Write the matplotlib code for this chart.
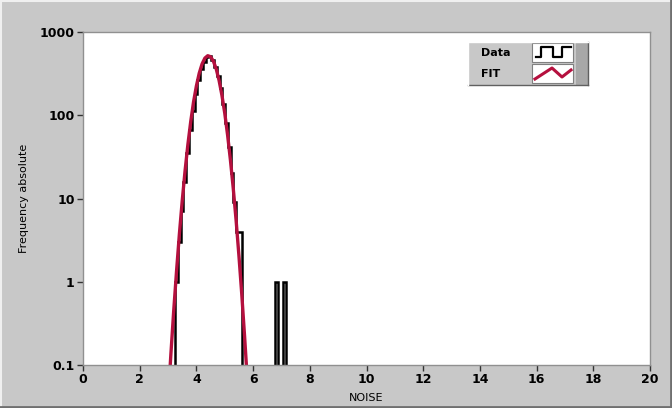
import numpy as np
import matplotlib.pyplot as plt
from matplotlib.patches import Rectangle
from matplotlib.lines import Line2D

# histogram of NOISE, bins of width 0.098 starting at 3.25
bin_start = 3.25
bin_width = 0.098
counts = [1, 3, 7, 16, 35, 66, 112, 180, 265, 360, 440, 495,
          510, 460, 385, 300, 210, 135, 80, 42, 20, 9, 4, 4,
          0, 0, 0, 0, 0, 0, 0, 0, 0, 0, 0, 0, 1, 0, 0, 1]

# fit curve
fit_x = [3.0, 3.1, 3.2, 3.3, 3.4, 3.5, 3.6, 3.7, 3.8, 3.9, 4.0, 4.1, 4.2, 4.3,
         4.4, 4.5, 4.6, 4.7, 4.8, 4.9, 5.0, 5.1, 5.2, 5.3, 5.4, 5.5, 5.6, 5.7, 5.8]
fit_y = [0.037, 0.135, 0.45, 1.35, 3.75, 9.4, 21.5, 44.6, 84, 145, 225, 320, 413, 486,
         519, 505, 446, 359, 262, 174, 106, 58, 29, 13.2, 5.5, 2.06, 0.71, 0.22, 0.063]

x_ticks = [0, 2, 4, 6, 8, 10, 12, 14, 16, 18, 20]
y_ticks = [0.1, 1, 10, 100, 1000]
y_labels = ["0.1", "1", "10", "100", "1000"]

bg = "#c8c8c8"
red = "#b5103e"

fig = plt.figure(figsize=(6.72, 4.08), dpi=100, facecolor=bg)
ax = fig.add_axes([83 / 672, 1 - 365 / 408, 567 / 672, 333 / 408])
ax.set_facecolor("white")

edges = bin_start + bin_width * np.arange(len(counts) + 1)
vals = np.array(counts, dtype=float)
vals[vals == 0] = 1e-4
ax.plot(fit_x, fit_y, color=red, lw=2.4, solid_capstyle="butt")
ax.stairs(vals, edges, baseline=1e-4, color="black", lw=1.8)

ax.set_yscale("log")
ax.set_xlim(0, 20)
ax.set_ylim(0.1, 1000)
ax.set_xticks(x_ticks)
ax.set_xticklabels([str(t) for t in x_ticks])
ax.set_yticks(y_ticks)
ax.set_yticklabels(y_labels)
ax.minorticks_off()
ax.tick_params(axis="both", direction="out", length=4, width=1, color="#333333",
               labelsize=9, pad=2)
for lab in ax.get_xticklabels() + ax.get_yticklabels():
    lab.set_fontweight("bold")
    lab.set_fontfamily("DejaVu Sans")
for s in ax.spines.values():
    s.set_color("#909090")
    s.set_linewidth(1)

ax.set_xlabel("NOISE", fontsize=8, labelpad=1)
ax.xaxis.set_label_coords(0.5, -0.085)
ax.set_ylabel("Frequency absolute", fontsize=8, labelpad=10)
ax.yaxis.set_label_coords(-0.095, 0.5)

# figure frame (3D look)
W, H = 672, 408
def fx(px):
    return px / W
def fy(py):
    return 1 - py / H

fig.add_artist(Line2D([fx(1), fx(1)], [fy(1), fy(406)], color="#f0f0f0", lw=1.5, transform=fig.transFigure))
fig.add_artist(Line2D([fx(1), fx(670)], [fy(1), fy(1)], color="#f0f0f0", lw=1.5, transform=fig.transFigure))
fig.add_artist(Line2D([fx(0), fx(672)], [fy(406.5), fy(406.5)], color="#707070", lw=2, transform=fig.transFigure))
fig.add_artist(Line2D([fx(670.5), fx(670.5)], [fy(0), fy(408)], color="#707070", lw=2, transform=fig.transFigure))

# legend panel
fig.add_artist(Rectangle((fx(468), fy(85)), 120 / W, 43 / H, transform=fig.transFigure,
                         facecolor=bg, edgecolor="none"))
fig.add_artist(Rectangle((fx(576), fy(85)), 12 / W, 43 / H, transform=fig.transFigure,
                         facecolor="#a8a8a8", edgecolor="none"))
fig.add_artist(Line2D([fx(468), fx(588)], [fy(85), fy(85)], color="#606060", lw=1, transform=fig.transFigure))
fig.add_artist(Line2D([fx(588), fx(588)], [fy(42), fy(85)], color="#606060", lw=1, transform=fig.transFigure))
fig.add_artist(Line2D([fx(468), fx(588)], [fy(42), fy(42)], color="#ffffff", lw=1, transform=fig.transFigure))
fig.add_artist(Line2D([fx(468), fx(468)], [fy(42), fy(85)], color="#ffffff", lw=1, transform=fig.transFigure))
for top in (43, 64):
    fig.add_artist(Rectangle((fx(532), fy(top + 19)), 41 / W, 19 / H, transform=fig.transFigure,
                             facecolor="white", edgecolor="#808080", lw=0.8))
fig.text(fx(481), fy(53), "Data", fontsize=8, fontweight="bold", va="center", ha="left")
fig.text(fx(481), fy(74), "FIT", fontsize=8, fontweight="bold", va="center", ha="left")
sx = [536, 541, 541, 553, 553, 562, 562, 571]
sy = [57, 57, 47, 47, 57, 57, 47, 47]
fig.add_artist(Line2D([fx(v) for v in sx], [fy(v) for v in sy], color="black", lw=1.6,
                      transform=fig.transFigure))
fig.add_artist(Line2D([fx(535), fx(552), fx(562), fx(571)], [fy(79), fy(68), fy(77), fy(70)],
                      color=red, lw=2.2, transform=fig.transFigure))

fig.savefig("out.png", dpi=100, facecolor=bg)
